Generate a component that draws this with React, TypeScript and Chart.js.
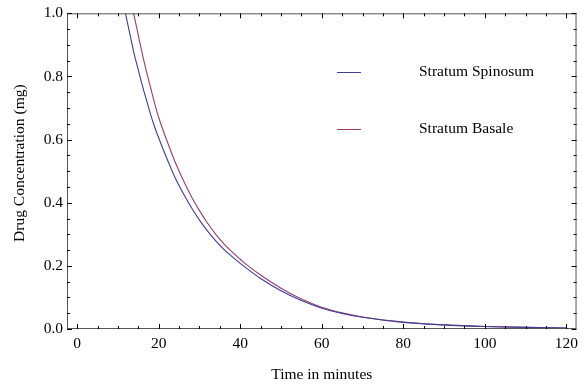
import React, { useEffect, useRef } from "react";
import { Chart, registerables } from "chart.js";

Chart.register(...registerables);

// ---- Data ----
const timeMinutes = [10, 11, 12, 13, 14, 15, 16, 17, 18, 19, 20, 22, 24, 26, 28, 30, 32, 34, 36, 38, 40, 42, 45, 50, 55, 60, 65, 70, 80, 90, 100, 110, 120];
const stratumSpinosum = [1.12, 1.055, 0.99, 0.93, 0.87, 0.82, 0.77, 0.725, 0.68, 0.64, 0.605, 0.54, 0.48, 0.43, 0.385, 0.345, 0.31, 0.279, 0.252, 0.229, 0.208, 0.188, 0.16, 0.121, 0.09, 0.066, 0.049, 0.037, 0.021, 0.013, 0.008, 0.005, 0.003];
const stratumBasale = [1.3, 1.21, 1.12, 1.05, 0.99, 0.93, 0.87, 0.815, 0.765, 0.715, 0.67, 0.597, 0.53, 0.472, 0.42, 0.375, 0.335, 0.3, 0.27, 0.244, 0.221, 0.199, 0.171, 0.129, 0.095, 0.069, 0.051, 0.038, 0.022, 0.013, 0.008, 0.005, 0.003];
const seriesNames = ["Stratum Spinosum", "Stratum Basale"];
const xTickValues = [0, 20, 40, 60, 80, 100, 120];
const yTickValues = [0, 0.2, 0.4, 0.6, 0.8, 1.0];
const xTitle = "Time in minutes";
const yTitle = "Drug Concentration (mg)";

const COLORS = ["#3d3d99", "#993d71"];
const FONT = "Liberation Serif, Times New Roman, serif";
const FS = 15.5;

const framePlugin = {
  id: "mmaFrame",
  afterDatasetsDraw(chart: any) {
    const { ctx, chartArea: a, scales } = chart;
    const xs = scales.x;
    const ys = scales.y;
    ctx.save();
    // frame
    ctx.strokeStyle = "#555";
    ctx.lineWidth = 1;
    ctx.strokeRect(a.left + 0.5, a.top + 0.5, a.right - a.left - 1, a.bottom - a.top - 1);
    // x ticks
    ctx.strokeStyle = "#000";
    for (let v = 0; v <= 120; v += 5) {
      const major = v % 20 === 0;
      const len = major ? 5 : 3;
      const px = Math.round(xs.getPixelForValue(v)) + 0.5;
      ctx.beginPath();
      ctx.moveTo(px, a.bottom);
      ctx.lineTo(px, a.bottom - len);
      ctx.moveTo(px, a.top);
      ctx.lineTo(px, a.top + len);
      ctx.stroke();
    }
    // y ticks
    for (let i = 0; i <= 20; i++) {
      const v = i * 0.05;
      const major = i % 4 === 0;
      const len = major ? 5 : 3;
      const py = Math.round(ys.getPixelForValue(v)) + 0.5;
      ctx.beginPath();
      ctx.moveTo(a.left, py);
      ctx.lineTo(a.left + len, py);
      ctx.moveTo(a.right, py);
      ctx.lineTo(a.right - len, py);
      ctx.stroke();
    }
    // axis titles
    ctx.fillStyle = "#000";
    ctx.font = `${FS}px ${FONT}`;
    ctx.textAlign = "center";
    ctx.textBaseline = "middle";
    ctx.fillText(xTitle, (a.left + a.right) / 2, 375);
    ctx.save();
    ctx.translate(20, (a.top + a.bottom) / 2 - 8);
    ctx.rotate(-Math.PI / 2);
    ctx.fillText(yTitle, 0, 0);
    ctx.restore();
    // legend
    const legendY = [72, 129];
    seriesNames.forEach((name, i) => {
      ctx.strokeStyle = COLORS[i];
      ctx.lineWidth = 1;
      ctx.beginPath();
      ctx.moveTo(337, legendY[i] + 0.5);
      ctx.lineTo(361, legendY[i] + 0.5);
      ctx.stroke();
      ctx.fillStyle = "#000";
      ctx.textAlign = "left";
      ctx.fillText(name, 419, legendY[i]);
    });
    ctx.restore();
  },
};

export default function App() {
  const ref = useRef<HTMLCanvasElement | null>(null);
  useEffect(() => {
    document.body.style.margin = "0";
    const canvas = ref.current;
    if (!canvas) return;
    const chart = new Chart(canvas, {
      type: "line",
      data: {
        datasets: [
          {
            label: seriesNames[0],
            data: timeMinutes.map((t, i) => ({ x: t, y: stratumSpinosum[i] })),
            borderColor: COLORS[0],
            borderWidth: 1.1,
            pointRadius: 0,
            fill: false,
            cubicInterpolationMode: "monotone",
          },
          {
            label: seriesNames[1],
            data: timeMinutes.map((t, i) => ({ x: t, y: stratumBasale[i] })),
            borderColor: COLORS[1],
            borderWidth: 1.1,
            pointRadius: 0,
            fill: false,
            cubicInterpolationMode: "monotone",
          },
        ],
      },
      options: {
        animation: false,
        responsive: false,
        maintainAspectRatio: false,
        devicePixelRatio: 1,
        layout: { padding: { left: 0, right: 2, top: 12, bottom: 0 } },
        plugins: { legend: { display: false }, tooltip: { enabled: false } },
        scales: {
          x: {
            type: "linear",
            min: -2.5,
            max: 122.5,
            afterBuildTicks: (s: any) => {
              s.ticks = xTickValues.map((v) => ({ value: v }));
            },
            afterFit: (s: any) => {
              s.height = 56;
            },
            grid: { display: false, drawTicks: false },
            border: { display: false },
            ticks: {
              color: "#000",
              font: { family: FONT, size: FS },
              padding: 6,
              maxRotation: 0,
              autoSkip: false,
              callback: (v: any) => String(v),
            },
          },
          y: {
            type: "linear",
            min: 0,
            max: 1,
            afterBuildTicks: (s: any) => {
              s.ticks = yTickValues.map((v) => ({ value: v }));
            },
            afterFit: (s: any) => {
              s.width = 67;
            },
            grid: { display: false, drawTicks: false },
            border: { display: false },
            ticks: {
              color: "#000",
              font: { family: FONT, size: FS },
              padding: 4,
              autoSkip: false,
              callback: (v: any) => Number(v).toFixed(1),
            },
          },
        },
      },
      plugins: [framePlugin],
    } as any);
    return () => chart.destroy();
  }, []);
  return (
    <div style={{ position: "absolute", left: 0, top: 0, width: 584, height: 385, background: "#fff" }}>
      <canvas ref={ref} width={584} height={385} style={{ width: 584, height: 385, display: "block" }} />
    </div>
  );
}
